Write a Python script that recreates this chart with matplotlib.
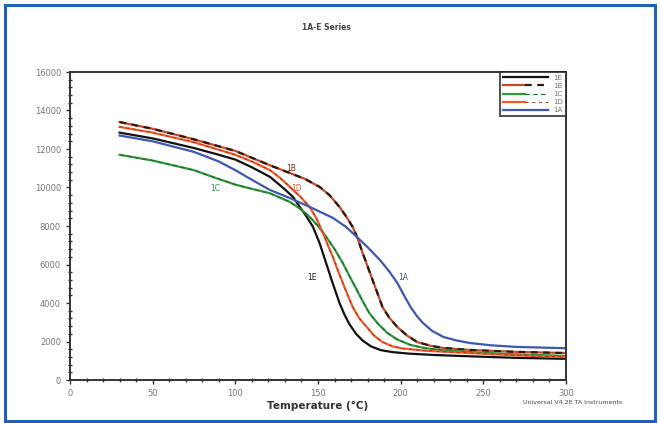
import matplotlib
matplotlib.use("Agg")
import matplotlib.pyplot as plt
from matplotlib.patches import Rectangle
from matplotlib.legend_handler import HandlerTuple
from matplotlib.ticker import MultipleLocator

# ---- data ----
t_1E = [30, 40, 50, 60, 75, 90, 100, 110, 121, 130, 135, 139, 143, 147, 151, 155, 159, 163, 166,
        169, 173, 177, 182, 188, 195, 205, 220, 242, 270, 300]
v_1E = [12850, 12700, 12550, 12350, 12050, 11700, 11450, 11050, 10550, 9900, 9500, 8990, 8500, 7950,
        7100, 6050, 5000, 4000, 3400, 2900, 2400, 2050, 1750, 1550, 1450, 1370, 1300, 1230, 1150, 1100]

t_1B = [30, 50, 75, 100, 121, 133, 142, 151, 157, 163, 167, 171, 174, 177, 180, 183, 186, 189, 193,
        198, 204, 210, 218, 226, 242, 270, 300]
v_1B = [13400, 13050, 12500, 11900, 11150, 10750, 10450, 10030, 9600, 8990, 8500, 7950, 7350, 6600,
        5900, 5200, 4500, 3790, 3250, 2750, 2300, 1970, 1780, 1660, 1560, 1460, 1400]

t_1C = [30, 50, 75, 88, 100, 109, 121, 133, 140, 145, 150, 155, 160, 165, 169, 173.5, 177, 181, 186,
        192, 198, 206, 215, 228, 242, 270, 300]
v_1C = [11700, 11400, 10900, 10500, 10150, 9950, 9700, 9250, 8850, 8470, 8000, 7430, 6800, 6080, 5400,
        4680, 4100, 3480, 2950, 2440, 2100, 1820, 1650, 1530, 1450, 1330, 1250]

t_1D = [30, 50, 75, 100, 110, 121, 127, 133, 139, 145, 149, 153, 156, 159, 162, 165, 168, 171, 175,
        180, 184, 189, 195, 201, 215, 242, 270, 300]
v_1D = [13150, 12850, 12350, 11700, 11350, 10900, 10500, 10030, 9550, 8990, 8400, 7640, 7000, 6390,
        5700, 5040, 4400, 3790, 3200, 2700, 2300, 1970, 1750, 1640, 1520, 1400, 1280, 1200]

t_1A = [30, 50, 75, 90, 100, 110, 121, 133, 145, 159, 167, 173.5, 180, 187.5, 193, 198, 202, 206, 210,
        213.5, 219, 226, 234, 242, 255, 270, 300]
v_1A = [12700, 12400, 11850, 11350, 10900, 10400, 9870, 9450, 8990, 8420, 7950, 7430, 6900, 6230, 5650,
        5040, 4400, 3790, 3300, 2960, 2550, 2230, 2050, 1920, 1800, 1720, 1650]

series_names = ["1E", "1B", "1C", "1D", "1A"]
curve_labels = {"1B": (134, 11000), "1D": (137, 9970), "1C": (88, 9970),
                "1E": (146.5, 5300), "1A": (201.6, 5300)}

x_ticks = [0, 50, 100, 150, 200, 250, 300]
y_ticks = [0, 2000, 4000, 6000, 8000, 10000, 12000, 14000, 16000]

# ---- figure ----
fig = plt.figure(figsize=(6.6, 4.23), dpi=100)
fig.patches.append(Rectangle((5/660, 2/423), 650/660, 416/423, transform=fig.transFigure,
                             fill=False, edgecolor="#1f63b5", linewidth=2.2))
ax = fig.add_axes([70/660, 43/423, 496/660, 308/423])

lw = 1.6
h1E, = ax.plot(t_1E, v_1E, color="#111111", lw=lw)
h1B_a, = ax.plot(t_1B, v_1B, color="#c8462a", lw=lw)
h1B_b, = ax.plot(t_1B, v_1B, color="#2a1a14", lw=lw, dashes=(3, 2.5))
h1C_a, = ax.plot(t_1C, v_1C, color="#2f9a3c", lw=lw)
h1C_b, = ax.plot(t_1C, v_1C, color="#1d6d28", lw=0.8, dashes=(4, 3))
h1D_a, = ax.plot(t_1D, v_1D, color="#ee5a2a", lw=lw)
h1D_b, = ax.plot(t_1D, v_1D, color="#b0301a", lw=0.7, dashes=(3, 4))
h1A, = ax.plot(t_1A, v_1A, color="#3c58b0", lw=lw)

label_colors = {"1E": "#222222", "1B": "#8a2a14", "1C": "#2f9a3c", "1D": "#ee5a2a", "1A": "#3c58b0"}
for name, (tx, ty) in curve_labels.items():
    ax.text(tx, ty, name, fontsize=5.5, color=label_colors[name], ha="center", va="center")

ax.set_xlim(0, 300)
ax.set_ylim(0, 16000)
ax.set_xticks(x_ticks)
ax.set_yticks(y_ticks)
ax.xaxis.set_minor_locator(MultipleLocator(10))
ax.yaxis.set_minor_locator(MultipleLocator(400))
ax.tick_params(axis="both", which="major", labelsize=6, labelcolor="#777777", color="#333333",
               direction="out", length=3, width=1)
ax.tick_params(axis="both", which="minor", color="#333333", direction="inout", length=2.5, width=1)
for s in ax.spines.values():
    s.set_color("#333333")
    s.set_linewidth(1.4)

ax.set_xlabel("Temperature (°C)", fontsize=7.5, fontweight="bold", color="#333333", labelpad=2)
fig.text(0.495, 1 - 27/423, "1A-E Series", fontsize=5.5, fontweight="bold",
         color="#444444", ha="center", va="center")
fig.text(622/660, 1 - 402/423, "Universal V4.2E TA Instruments", fontsize=4.5,
         color="#444444", ha="right", va="center")

handles = [h1E, (h1B_a, h1B_b), (h1C_a, h1C_b), (h1D_a, h1D_b), h1A]
leg = ax.legend(handles, series_names, loc="upper right", fontsize=5, frameon=True,
                fancybox=False, handlelength=6.5, handletextpad=0.8, borderpad=0.4,
                labelspacing=0.3, borderaxespad=0.0,
                handler_map={tuple: HandlerTuple(ndivide=None, pad=0)})
leg.get_frame().set_edgecolor("#222222")
leg.get_frame().set_linewidth(1.4)
for txt in leg.get_texts():
    txt.set_color("#777777")

fig.savefig("out.png", dpi=100)
